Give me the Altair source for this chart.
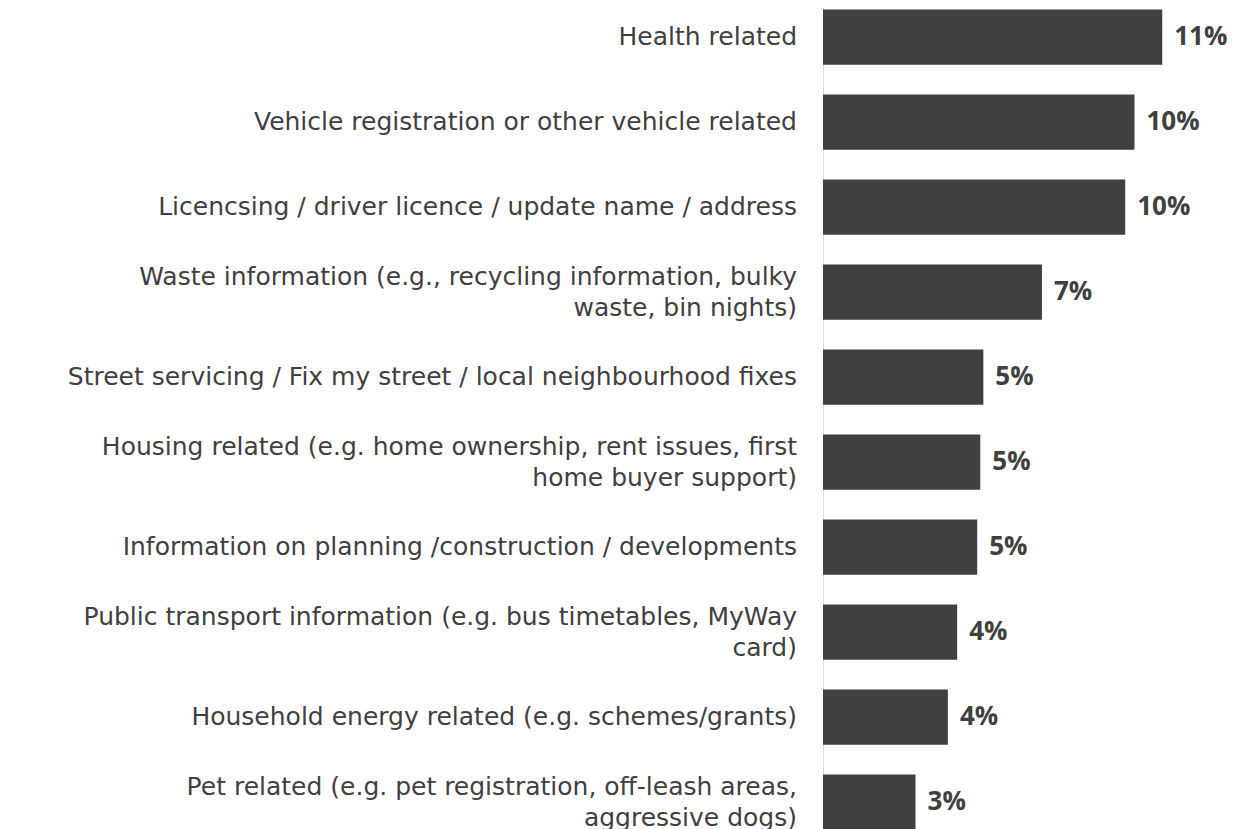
import altair as alt
import pandas as pd

categories = [
    "Health related",
    "Vehicle registration or other vehicle related",
    "Licencsing / driver licence / update name / address",
    "Waste information (e.g., recycling information, bulky|waste, bin nights)",
    "Street servicing / Fix my street / local neighbourhood fixes",
    "Housing related (e.g. home ownership, rent issues, first|home buyer support)",
    "Information on planning /construction / developments",
    "Public transport information (e.g. bus timetables, MyWay|card)",
    "Household energy related (e.g. schemes/grants)",
    "Pet related (e.g. pet registration, off-leash areas,|aggressive dogs)",
]
values = [11.0, 10.1, 9.8, 7.1, 5.2, 5.1, 5.0, 4.35, 4.05, 3.0]
value_labels = ["11%", "10%", "10%", "7%", "5%", "5%", "5%", "4%", "4%", "3%"]

df = pd.DataFrame({"category": categories, "value": values, "label": value_labels})

y_enc = alt.Y(
    "category:N",
    sort=categories,
    scale=alt.Scale(paddingInner=0.35, paddingOuter=0.175),
    axis=None,
)
x_enc = alt.X(
    "value:Q",
    scale=alt.Scale(domain=[0, 13.1], nice=False, zero=True),
    axis=None,
)

base = alt.Chart(df)
bars = base.mark_bar(color="#404040").encode(y=y_enc, x=x_enc)

label_style = dict(
    align="right", baseline="middle", lineBreak="|", lineHeight=31,
    font="DejaVu Sans", fontSize=25, color="#404040",
)
single = base.transform_filter("indexof(datum.category, '|') < 0").mark_text(
    **label_style
).encode(y=alt.Y("category:N", sort=categories), x=alt.value(-26), text="category:N")
multi = base.transform_filter("indexof(datum.category, '|') >= 0").mark_text(
    dy=-15.5, **label_style
).encode(y=alt.Y("category:N", sort=categories), x=alt.value(-26), text="category:N")

texts = base.mark_text(
    align="left", baseline="middle", dx=12, font="Open Sans", fontWeight="bold",
    fontSize=26, color="#404040"
).encode(y=alt.Y("category:N", sort=categories), x=alt.X("value:Q"), text="label:N")

chart = (
    (bars + single + multi + texts)
    .properties(
        width=404,
        height=850,
        padding={"left": 815, "top": -13.5, "right": 0, "bottom": -16},
        autosize=alt.AutoSizeParams(type="none"),
    )
    .configure_view(strokeWidth=0, strokeOpacity=0)
    .configure(background="white")
)

chart.save("out.html", embed_options={"renderer": "svg", "actions": False})
